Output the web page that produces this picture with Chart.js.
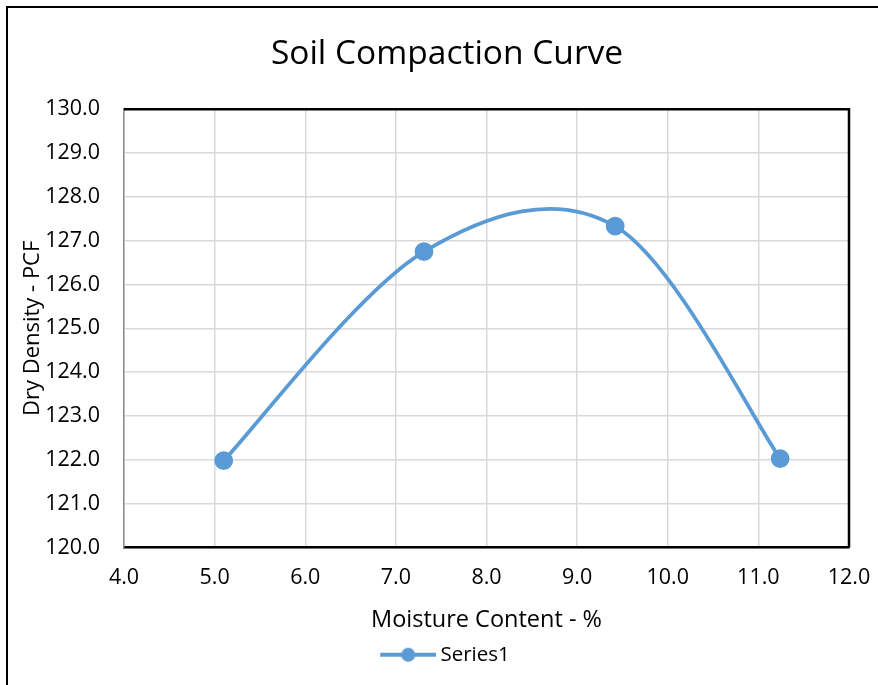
<!DOCTYPE html>
<html>
<head>
<meta charset="utf-8">
<script src="https://cdn.jsdelivr.net/npm/chart.js@4"></script>
<style>
    body { margin: 0; background: #fff; overflow: hidden; }
    #frame {
        position: absolute; left: 6px; top: 6px;
        width: 1000px; height: 1000px;
        border-left: 2.5px solid #000; border-top: 2.5px solid #000;
    }
    #soilChart { position: absolute; left: 0; top: 0; }
</style>
</head>
<body>
<div id="frame"></div>
<canvas id="soilChart" width="878" height="685"></canvas>
<script>
// values
const moisture = [5.1, 7.31, 9.42, 11.24];
const dryDensity = [121.98, 126.75, 127.33, 122.03];
const xTicks = [4.0, 5.0, 6.0, 7.0, 8.0, 9.0, 10.0, 11.0, 12.0];
const yTicks = [120.0, 121.0, 122.0, 123.0, 124.0, 125.0, 126.0, 127.0, 128.0, 129.0, 130.0];

const blue = '#5B9BD5';
const fontFamily = "'Open Sans', sans-serif";

// legend marker: line with a dot in the middle
function legendMarker() {
    const c = document.createElement('canvas');
    c.width = 58;
    c.height = 16;
    const g = c.getContext('2d');
    g.strokeStyle = blue;
    g.lineWidth = 4;
    g.beginPath();
    g.moveTo(2, 8);
    g.lineTo(58, 8);
    g.stroke();
    g.fillStyle = blue;
    g.beginPath();
    g.arc(30, 8, 7, 0, Math.PI * 2);
    g.fill();
    return c;
}

// black frame on the top and right of the plot area
const plotFrame = {
    id: 'plotFrame',
    afterDraw(chart) {
        const { ctx, chartArea: a } = chart;
        ctx.save();
        ctx.strokeStyle = '#000';
        ctx.lineWidth = 2.5;
        ctx.beginPath();
        ctx.moveTo(a.left, a.top);
        ctx.lineTo(a.right, a.top);
        ctx.lineTo(a.right, a.bottom);
        ctx.stroke();
        ctx.restore();
    }
};

// Excel-like smoothing: control points at 1/6 of the neighbour span
const excelSmooth = {
    id: 'excelSmooth',
    beforeDatasetDraw(chart, args) {
        const pts = args.meta.data;
        const n = pts.length;
        pts.forEach((p, i) => {
            const prev = pts[Math.max(i - 1, 0)];
            const next = pts[Math.min(i + 1, n - 1)];
            const dx = (next.x - prev.x) / 6;
            const dy = (next.y - prev.y) / 6;
            p.cp1x = p.x - dx;
            p.cp1y = p.y - dy;
            p.cp2x = p.x + dx;
            p.cp2y = p.y + dy;
        });
        args.meta.dataset._pointsUpdated = true;
    }
};

const ctx = document.getElementById('soilChart').getContext('2d');
const marker = legendMarker();

new Chart(ctx, {
    type: 'scatter',
    data: {
        datasets: [{
            label: 'Series1',
            data: moisture.map((x, i) => ({ x: x, y: dryDensity[i] })),
            showLine: true,
            tension: 0.4,
            borderColor: blue,
            backgroundColor: blue,
            borderWidth: 3.75,
            pointRadius: 7.5,
            pointHoverRadius: 7.5,
        }]
    },
    options: {
        responsive: false,
        animation: false,
        layout: { padding: { left: 45, right: 29, top: 18, bottom: 10 } },
        plugins: {
            title: {
                display: true,
                text: 'Soil Compaction Curve',
                color: '#000',
                font: { family: fontFamily, size: 33.5, weight: 'normal' },
                padding: { top: 16, bottom: 35 },
            },
            legend: {
                position: 'bottom',
                labels: {
                    color: '#000',
                    font: { family: fontFamily, size: 20.5 },
                    usePointStyle: true,
                    pointStyleWidth: 46,
                    generateLabels: chart => [{
                        text: 'Series1',
                        pointStyle: marker,
                        fillStyle: blue,
                        strokeStyle: blue,
                        lineWidth: 0,
                        datasetIndex: 0,
                    }],
                },
            },
            tooltip: { enabled: false },
        },
        scales: {
            x: {
                type: 'linear',
                min: 4,
                max: 12,
                afterBuildTicks: axis => { axis.ticks = xTicks.map(v => ({ value: v })); },
                afterFit: axis => {
                    axis.height = 87;
                    axis.paddingLeft = 0;
                    axis.paddingRight = 0;
                },
                ticks: {
                    color: '#000',
                    padding: 17,
                    font: { family: fontFamily, size: 21.5 },
                    callback: v => v.toFixed(1),
                },
                grid: { color: '#d9d9d9', lineWidth: 1.5, drawTicks: false },
                border: { color: '#000', width: 2.5 },
                title: {
                    display: true,
                    text: 'Moisture Content - %',
                    color: '#000',
                    font: { family: fontFamily, size: 23.5 },
                    padding: { top: 0, bottom: 0 },
                },
            },
            y: {
                type: 'linear',
                min: 120,
                max: 130,
                afterBuildTicks: axis => { axis.ticks = yTicks.map(v => ({ value: v })); },
                afterFit: axis => { axis.width = 79; },
                ticks: {
                    color: '#000',
                    padding: 24,
                    font: { family: fontFamily, size: 21.5 },
                    callback: v => v.toFixed(1),
                },
                grid: { color: '#d9d9d9', lineWidth: 1.5, drawTicks: false },
                border: { color: '#8c8c8c', width: 1.5 },
                title: {
                    display: true,
                    text: 'Dry Density - PCF',
                    color: '#000',
                    font: { family: fontFamily, size: 22 },
                    padding: { top: -25, bottom: 0 },
                },
            },
        },
    },
    plugins: [plotFrame, excelSmooth],
});
</script>
</body>
</html>
